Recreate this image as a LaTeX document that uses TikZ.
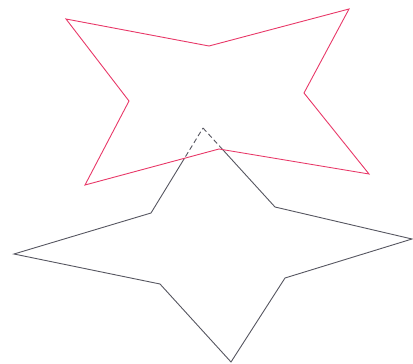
\documentclass[tikz,border=0pt]{standalone}
\usepackage{tikz}
\usepackage{xcolor}
\usetikzlibrary{calc}
\definecolor{starRose}{RGB}{232,56,104}
\definecolor{starSlate}{RGB}{86,86,96}

\begin{document}
\begin{tikzpicture}[x=1pt,y=-1pt]
  \useasboundingbox (0,0) rectangle (413,364);
  % rose star
  \coordinate (r0) at (66,19);
  \coordinate (r1) at (209,46);
  \coordinate (r2) at (349,9);
  \coordinate (r3) at (304,93);
  \coordinate (r4) at (369,174);
  \coordinate (r5) at (219,149);
  \coordinate (r6) at (85,185);
  \coordinate (r7) at (129,101);
  % slate star
  \coordinate (s0) at (203,128);
  \coordinate (s1) at (275,207);
  \coordinate (s2) at (412,239);
  \coordinate (s3) at (285,278);
  \coordinate (s4) at (231,362);
  \coordinate (s5) at (160,284);
  \coordinate (s6) at (14,254);
  \coordinate (s7) at (151,213);
  % hidden part of the slate star
  \begin{scope}
    \clip (r0)--(r1)--(r2)--(r3)--(r4)--(r5)--(r6)--(r7)--cycle;
    \draw[starSlate,line width=0.9pt,dash pattern=on 5pt off 3pt]
      (s0)--(s1)--(s2)--(s3)--(s4)--(s5)--(s6)--(s7)--cycle;
  \end{scope}
  % visible part of the slate star
  \begin{scope}[even odd rule]
    \clip (-10,-10) rectangle (423,374)
      (r0)--(r1)--(r2)--(r3)--(r4)--(r5)--(r6)--(r7)--cycle;
    \draw[starSlate,line width=0.9pt]
      (s0)--(s1)--(s2)--(s3)--(s4)--(s5)--(s6)--(s7)--cycle;
  \end{scope}
  \draw[starRose,line width=0.9pt]
    (r0)--(r1)--(r2)--(r3)--(r4)--(r5)--(r6)--(r7)--cycle;
\end{tikzpicture}
\end{document}
